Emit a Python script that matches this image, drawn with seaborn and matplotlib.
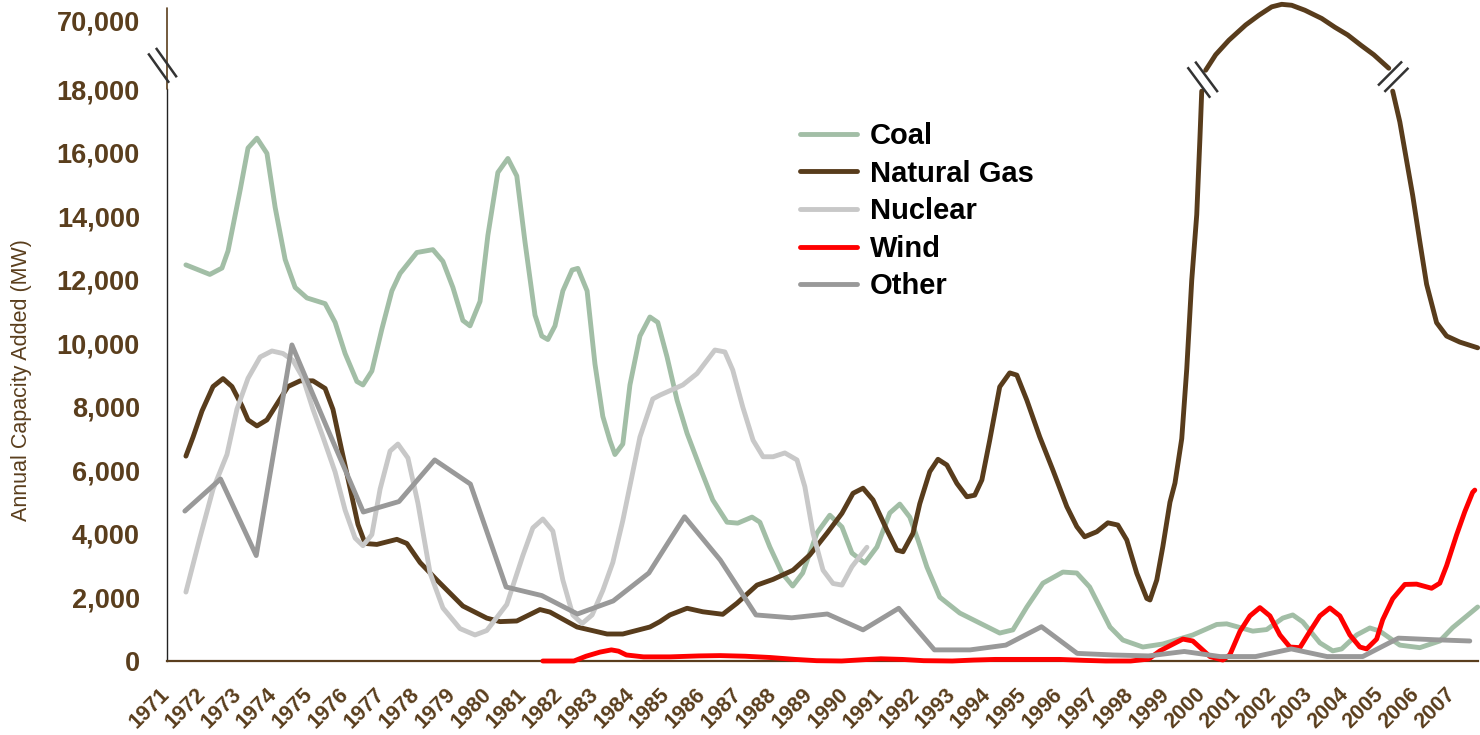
import numpy as np
import pandas as pd
import matplotlib
matplotlib.use("Agg")
import matplotlib.pyplot as plt
import seaborn as sns
from matplotlib.lines import Line2D
from matplotlib.transforms import IdentityTransform

# ---------------- data ----------------
categories = ["Coal", "Natural Gas", "Nuclear", "Wind", "Other"]
x_tick_years = list(range(1971, 2008))
y_tick_values = [0, 2000, 4000, 6000, 8000, 10000, 12000, 14000, 16000, 18000, 70000]
y_label = "Annual Capacity Added (MW)"

coal_years = [1971.53, 1972.20, 1972.54, 1972.71, 1973.05, 1973.27, 1973.52, 1973.80, 1974.03, 1974.31,
              1974.59, 1974.92, 1975.43, 1975.71, 1975.99, 1976.32, 1976.49, 1976.74, 1977.02, 1977.30,
              1977.53, 1978.00, 1978.45, 1978.73, 1979.01, 1979.29, 1979.49, 1979.77, 1979.99, 1980.27,
              1980.55, 1980.80, 1981.03, 1981.31, 1981.50, 1981.67, 1981.87, 1982.09, 1982.35, 1982.51,
              1982.77, 1982.99, 1983.21, 1983.41, 1983.55, 1983.77, 1983.97, 1984.25, 1984.53, 1984.75,
              1985.01, 1985.29, 1985.57, 1985.93, 1986.29, 1986.69, 1986.99, 1987.39, 1987.61, 1987.89,
              1988.23, 1988.53, 1988.81, 1989.21, 1989.57, 1989.91, 1990.19, 1990.55, 1990.89, 1991.25,
              1991.53, 1991.81, 1992.04, 1992.29, 1992.65, 1993.21, 1994.33, 1994.70, 1995.09, 1995.54,
              1996.10, 1996.49, 1996.85, 1997.42, 1997.78, 1998.34, 1998.90, 1999.74, 2000.41, 2000.69,
              2001.42, 2001.81, 2002.26, 2002.54, 2002.82, 2003.30, 2003.66, 2003.91, 2004.33, 2004.70,
              2004.98, 2005.54, 2006.10, 2006.66, 2007.02, 2007.72]
coal_mw = [12470, 12170, 12370, 12910, 14830, 16150, 16460, 15980, 14280, 12640,
           11760, 11430, 11250, 10660, 9680, 8800, 8690, 9130, 10450, 11650,
           12200, 12860, 12950, 12580, 11760, 10720, 10550, 11320, 13400, 15380,
           15820, 15270, 13190, 10890, 10230, 10120, 10550, 11650, 12310, 12360,
           11650, 9350, 7700, 6940, 6500, 6830, 8690, 10230, 10830, 10660,
           9570, 8210, 7170, 6100, 5070, 4370, 4340, 4530, 4370, 3590,
           2770, 2360, 2770, 4030, 4590, 4220, 3400, 3080, 3590, 4660,
           4940, 4530, 3810, 2960, 2010, 1510, 880, 980, 1700, 2450,
           2800, 2770, 2330, 1070, 660, 440, 535, 820, 1150, 1170,
           940, 990, 1350, 1450, 1230, 570, 320, 380, 820, 1040,
           940, 500, 420, 630, 1050, 1700]

gas_years = [1971.53, 1971.73, 1971.98, 1972.29, 1972.57, 1972.82, 1973.10, 1973.27, 1973.52, 1973.80,
             1974.08, 1974.39, 1974.73, 1975.09, 1975.43, 1975.65, 1975.90, 1976.18, 1976.35, 1976.55,
             1976.88, 1977.44, 1977.72, 1978.09, 1978.56, 1979.29, 1979.96, 1980.33, 1980.80, 1981.45,
             1981.73, 1982.49, 1983.33, 1983.77, 1984.53, 1984.81, 1985.09, 1985.57, 1986.01, 1986.57,
             1986.97, 1987.53, 1987.98, 1988.54, 1989.01, 1989.49, 1989.91, 1990.22, 1990.50, 1990.78,
             1991.17, 1991.45, 1991.62, 1991.90, 1992.09, 1992.37, 1992.60, 1992.85, 1993.13, 1993.41,
             1993.63, 1993.83, 1994.05, 1994.33, 1994.61, 1994.81, 1995.09, 1995.45, 1995.82, 1996.21,
             1996.49, 1996.71, 1997.05, 1997.36, 1997.64, 1997.89, 1998.17, 1998.45, 1998.54, 1998.73,
             1998.90, 1999.10, 1999.24, 1999.43, 1999.57, 1999.71, 1999.85, 1999.94, 1999.99,
             2000.10, 2000.38, 2000.75, 2001.22, 2001.59, 2001.95, 2002.23, 2002.51, 2002.88, 2003.35,
             2003.72, 2004.08, 2004.45, 2004.81, 2005.23,
             2005.34, 2005.54, 2005.73, 2005.90, 2006.10, 2006.29, 2006.57, 2006.85, 2007.22, 2007.72]
gas_mw = [6450, 7050, 7870, 8640, 8890, 8640, 8030, 7590, 7400, 7590,
          8090, 8640, 8820, 8820, 8580, 7920, 6610, 5180, 4300, 3700,
          3670, 3830, 3700, 3100, 2550, 1730, 1350, 1240, 1260, 1620,
          1540, 1070, 850, 850, 1070, 1240, 1450, 1660, 1550, 1470,
          1820, 2390, 2570, 2860, 3340, 4020, 4650, 5280, 5440, 5070,
          4120, 3490, 3440, 4020, 4950, 5960, 6350, 6170, 5590, 5170,
          5220, 5700, 6950, 8630, 9070, 9000, 8210, 7060, 6010, 4860,
          4230, 3910, 4070, 4350, 4280, 3810, 2760, 1970, 1920, 2550,
          3600, 5000, 5600, 7000, 9190, 11990, 14050, 16480, 17940,
          32320, 44000, 54930, 66420, 73770, 80100, 82000, 81300, 77540, 71360,
          64720, 58920, 51160, 44000, 33830,
          17940, 16970, 15750, 14660, 13200, 11860, 10650, 10230, 10040, 9860]

nuclear_years = [1971.53, 1971.92, 1972.29, 1972.68, 1972.96, 1973.27, 1973.61, 1973.94, 1974.25, 1974.53,
                 1974.81, 1975.09, 1975.37, 1975.71, 1975.99, 1976.27, 1976.49, 1976.74, 1976.97, 1977.25,
                 1977.47, 1977.75, 1978.03, 1978.37, 1978.73, 1979.21, 1979.63, 1979.96, 1980.52, 1980.97,
                 1981.25, 1981.53, 1981.81, 1982.09, 1982.37, 1982.63, 1982.91, 1983.21, 1983.49, 1983.77,
                 1984.03, 1984.25, 1984.61, 1984.81, 1985.45, 1985.85, 1986.35, 1986.63, 1986.85, 1987.13,
                 1987.42, 1987.70, 1987.98, 1988.31, 1988.65, 1988.87, 1989.10, 1989.38, 1989.66, 1989.91,
                 1990.19, 1990.61]
nuclear_mw = [2170, 3870, 5410, 6500, 7930, 8900, 9570, 9760, 9680, 9460,
              8910, 7920, 7050, 5950, 4750, 3870, 3630, 3980, 5410, 6610,
              6830, 6390, 4970, 2770, 1670, 1020, 820, 960, 1780, 3320,
              4190, 4470, 4090, 2550, 1450, 1180, 1450, 2220, 3100, 4420,
              5840, 7050, 8250, 8370, 8690, 9050, 9790, 9730, 9160, 8000,
              6950, 6430, 6430, 6550, 6330, 5490, 4020, 2860, 2440, 2390,
              2970, 3580]

wind_years = [1981.53, 1982.40, 1982.74, 1983.13, 1983.45, 1983.65, 1983.87, 1984.35, 1985.09, 1985.90,
              1986.50, 1987.20, 1987.90, 1988.60, 1989.20, 1989.90, 1990.50, 1991.00, 1991.60, 1992.20,
              1993.00, 1993.60, 1994.20, 1995.00, 1996.00, 1996.70, 1997.30, 1998.00, 1998.50, 1998.82,
              1999.46, 1999.74, 2000.22, 2000.58, 2000.78, 2001.06, 2001.34, 2001.62, 2001.90, 2002.18,
              2002.46, 2002.74, 2003.02, 2003.30, 2003.58, 2003.86, 2004.14, 2004.42, 2004.61, 2004.89,
              2005.06, 2005.34, 2005.68, 2006.01, 2006.43, 2006.66, 2006.85, 2007.13, 2007.36, 2007.58,
              2007.64]
wind_mw = [0, 0, 150, 280, 350, 310, 190, 130, 130, 160,
           170, 150, 110, 50, 10, 0, 40, 70, 50, 10,
           0, 30, 50, 50, 50, 20, 0, 0, 60, 320,
           690, 630, 140, 30, 200, 930, 1420, 1680, 1420, 820,
           440, 420, 930, 1420, 1670, 1420, 820, 440, 380, 690,
           1300, 1960, 2410, 2420, 2290, 2450, 3000, 3970, 4700, 5310,
           5380]

other_years = [1971.5 + i for i in range(37)]
other_mw = [4720, 5730, 3320, 9950, 7300, 4690, 5020, 6330, 5570, 2330,
            2060, 1480, 1890, 2770, 4540, 3180, 1450, 1360, 1480, 980,
            1660, 350, 350, 500, 1080, 240, 190, 160, 300, 140,
            140, 380, 140, 140, 720, 670, 630]

# ---------------- style ----------------
colors = {"Coal": "#a2bea6", "Natural Gas": "#583c1c", "Nuclear": "#c8c8c8",
          "Wind": "#ff0000", "Other": "#999999"}
BROWN = "#5a3e1d"
BREAK = 18000.0
K = 0.04176  # compression of the upper segment of the axis

sns.set_style("white")
plt.rcParams["font.family"] = ["Liberation Sans", "DejaVu Sans"]

# long-form frame; natural gas split into segments at the axis break
frames = []
series = {"Coal": (coal_years, coal_mw), "Natural Gas": (gas_years, gas_mw),
          "Nuclear": (nuclear_years, nuclear_mw), "Wind": (wind_years, wind_mw),
          "Other": (other_years, other_mw)}
for name, (yrs, vals) in series.items():
    vals = np.asarray(vals, float)
    above = (vals > BREAK).astype(int)
    seg = np.concatenate([[0], np.cumsum(np.diff(above) != 0)])
    frames.append(pd.DataFrame({"year": yrs, "mw": vals, "source": name,
                                "seg": [f"{name}-{s}" for s in seg]}))
df = pd.concat(frames, ignore_index=True)

W, H = 1480, 735
fig = plt.figure(figsize=(W / 100, H / 100), dpi=100)
ax = fig.add_axes([167 / W, 1 - 661 / H, 1311 / W, 658 / H])


def fwd(v):
    v = np.asarray(v, float)
    return np.where(v <= BREAK, v, BREAK + (v - BREAK) * K)


def inv(u):
    u = np.asarray(u, float)
    return np.where(u <= BREAK, u, BREAK + (u - BREAK) / K)


ax.set_yscale("function", functions=(fwd, inv))
ax.set_ylim(0, 83000)
ax.set_xlim(1971, 2007.73)

sns.lineplot(data=df, x="year", y="mw", hue="source", units="seg", estimator=None,
             sort=False, hue_order=categories, palette=colors, linewidth=3.5,
             legend=False, ax=ax, clip_on=False, zorder=3,
             solid_joinstyle="round", solid_capstyle="round")

# axes styling
for s in ("top", "right"):
    ax.spines[s].set_visible(False)
ax.spines["bottom"].set_color(BROWN)
ax.spines["bottom"].set_linewidth(1.6)
ax.spines["left"].set_color("#222222")
ax.spines["left"].set_linewidth(1.0)
ax.spines["left"].set_bounds(0, BREAK)
ax.plot([0, 0], [BREAK, 79000], color=BROWN, lw=1.2, transform=ax.get_yaxis_transform(),
        clip_on=False, zorder=2.6)

ax.set_yticks(y_tick_values)
ax.set_yticklabels([f"{v:,}" for v in y_tick_values])
ax.set_xticks(x_tick_years)
ax.set_xticklabels([str(y) for y in x_tick_years])
ax.tick_params(axis="y", length=0, pad=19.5, labelsize=19.5, labelcolor=BROWN)
ax.tick_params(axis="x", length=0, pad=22, labelsize=15.5, labelcolor=BROWN)
for t in ax.get_yticklabels():
    t.set_fontweight("bold")
for t in ax.get_xticklabels():
    t.set_fontweight("bold")
    t.set_rotation(45)
    t.set_ha("right")
    t.set_va("center")
    t.set_rotation_mode("anchor")
ax.set_xlabel("")
ax.set_ylabel("")
ax.grid(False)

fig.text(22 / W, 1 - 380 / H, y_label, rotation=90, ha="center", va="center",
         fontsize=15.5, color=BROWN)

# legend
handles = [Line2D([], [], color=colors[c], lw=3.5, solid_capstyle="round") for c in categories]
leg = fig.legend(handles, categories, loc="upper left", bbox_to_anchor=(800 / W, 1 - 122 / H),
                 frameon=False, borderpad=0, borderaxespad=0, handlelength=1.95,
                 handletextpad=0.45, labelspacing=0.33, labelcolor="black",
                 prop={"family": "Liberation Sans", "weight": "bold", "size": 21})


# break marks
def break_mark(center, direction, sep=9.0, length=36.0, lw=1.8):
    d = np.asarray(direction, float)
    d = d / np.linalg.norm(d)
    p = np.array([d[1], -d[0]])
    c0 = np.asarray(center, float)
    for s in (-1, 1):
        c = c0 + s * sep / 2 * p
        a = c - d * length / 2
        b = c + d * length / 2
        fig.add_artist(Line2D([a[0], b[0]], [a[1], b[1]], transform=IdentityTransform(),
                              color="#333333", lw=lw, solid_capstyle="butt", zorder=10))


g = np.asarray(gas_mw, float)
gy = np.asarray(gas_years, float)
up = g > BREAK
for i in np.where(np.diff(up.astype(int)) != 0)[0]:
    p1 = ax.transData.transform((gy[i], g[i]))
    p2 = ax.transData.transform((gy[i + 1], g[i + 1]))
    mid = (p1 + p2) / 2
    if g[i + 1] > g[i]:
        break_mark(mid + np.array([-1.0, 1.0]), (0.596, -0.803), sep=9.5, length=38)
    else:
        break_mark(mid + np.array([2.5, 3.0]), (0.707, 0.707), sep=9.0, length=34)

ypt = ax.transData.transform((1971, 36000))
break_mark((ypt[0] - 4.5, ypt[1]), (0.58, -0.815), sep=9.5, length=36)

fig.savefig("out.png", dpi=100)
